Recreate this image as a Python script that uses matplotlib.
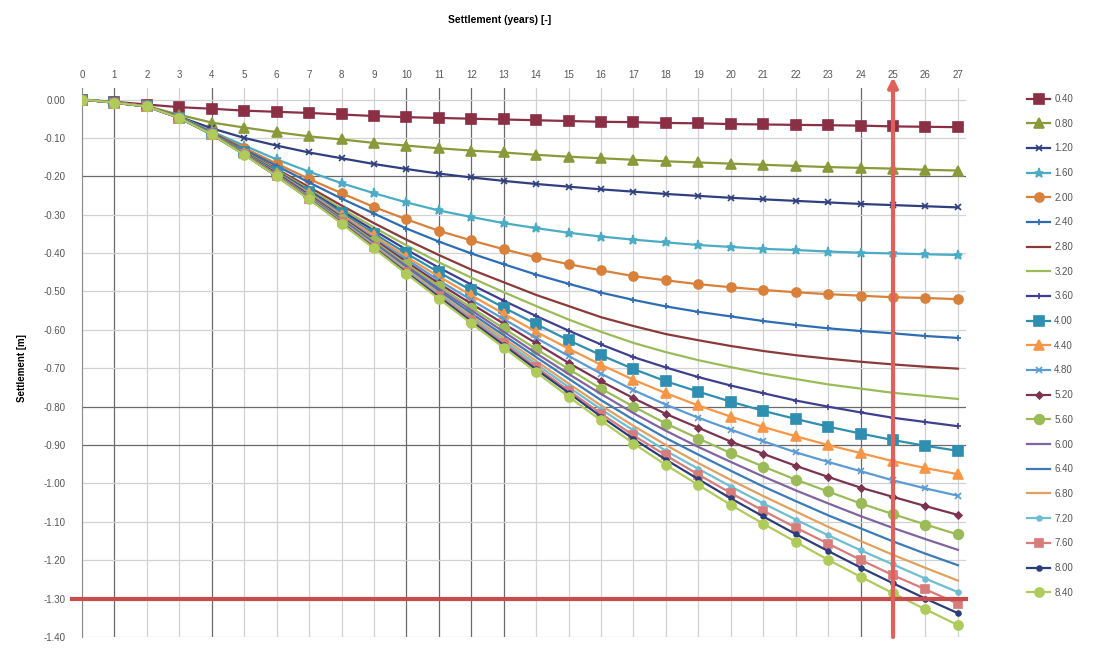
import matplotlib
matplotlib.use("Agg")
import matplotlib.pyplot as plt

plt.rcParams["font.family"] = ["Liberation Sans", "DejaVu Sans"]

# ---- data -------------------------------------------------------------
years = list(range(28))

s_040 = [0, -0.006, -0.013, -0.020, -0.024, -0.029, -0.032, -0.035, -0.039, -0.043, -0.046, -0.048, -0.050, -0.052,
         -0.054, -0.056, -0.058, -0.059, -0.061, -0.062, -0.064, -0.065, -0.066, -0.067, -0.068, -0.070, -0.071, -0.072]
s_080 = [0, -0.008, -0.017, -0.040, -0.060, -0.073, -0.085, -0.096, -0.104, -0.113, -0.120, -0.127, -0.133, -0.138,
         -0.144, -0.149, -0.153, -0.157, -0.161, -0.164, -0.167, -0.170, -0.173, -0.176, -0.178, -0.180, -0.183, -0.185]
s_120 = [0, -0.008, -0.018, -0.045, -0.075, -0.100, -0.120, -0.138, -0.153, -0.168, -0.181, -0.193, -0.203, -0.212,
         -0.220, -0.227, -0.234, -0.240, -0.246, -0.251, -0.256, -0.260, -0.264, -0.268, -0.272, -0.275, -0.278, -0.281]
s_160 = [0, -0.008, -0.018, -0.045, -0.083, -0.120, -0.156, -0.188, -0.218, -0.244, -0.268, -0.289, -0.306, -0.322,
         -0.335, -0.347, -0.357, -0.365, -0.372, -0.379, -0.384, -0.389, -0.392, -0.396, -0.399, -0.401, -0.403, -0.405]
s_200 = [0, -0.008, -0.018, -0.046, -0.085, -0.126, -0.167, -0.207, -0.244, -0.280, -0.312, -0.342, -0.367, -0.390,
         -0.411, -0.429, -0.445, -0.460, -0.471, -0.481, -0.489, -0.496, -0.502, -0.507, -0.511, -0.515, -0.517, -0.520]
s_240 = [0, -0.008, -0.018, -0.046, -0.086, -0.130, -0.173, -0.216, -0.258, -0.297, -0.336, -0.370, -0.401, -0.429,
         -0.456, -0.480, -0.503, -0.522, -0.539, -0.553, -0.565, -0.577, -0.587, -0.596, -0.603, -0.609, -0.616, -0.621]
s_280 = [0, -0.008, -0.018, -0.047, -0.087, -0.134, -0.181, -0.228, -0.276, -0.322, -0.365, -0.405, -0.443, -0.476,
         -0.509, -0.538, -0.567, -0.590, -0.611, -0.627, -0.642, -0.655, -0.666, -0.675, -0.683, -0.690, -0.696, -0.701]
s_320 = [0, -0.008, -0.018, -0.047, -0.088, -0.135, -0.184, -0.234, -0.284, -0.333, -0.380, -0.424, -0.464, -0.502,
         -0.538, -0.573, -0.605, -0.634, -0.658, -0.679, -0.697, -0.714, -0.728, -0.742, -0.753, -0.764, -0.772, -0.780]
s_360 = [0, -0.008, -0.018, -0.047, -0.088, -0.137, -0.187, -0.238, -0.290, -0.341, -0.391, -0.438, -0.482, -0.524,
         -0.564, -0.602, -0.638, -0.671, -0.698, -0.723, -0.745, -0.765, -0.784, -0.800, -0.815, -0.829, -0.840, -0.851]
s_400 = [0, -0.008, -0.018, -0.047, -0.089, -0.138, -0.189, -0.241, -0.295, -0.349, -0.401, -0.450, -0.497, -0.542,
         -0.585, -0.627, -0.666, -0.702, -0.734, -0.761, -0.787, -0.811, -0.832, -0.852, -0.870, -0.887, -0.902, -0.915]
s_440 = [0, -0.008, -0.018, -0.047, -0.089, -0.139, -0.191, -0.244, -0.300, -0.354, -0.410, -0.461, -0.510, -0.558,
         -0.605, -0.649, -0.691, -0.730, -0.765, -0.797, -0.826, -0.853, -0.877, -0.900, -0.921, -0.942, -0.960, -0.976]
s_480 = [0, -0.008, -0.018, -0.047, -0.090, -0.140, -0.192, -0.247, -0.304, -0.361, -0.416, -0.471, -0.522, -0.572,
         -0.621, -0.668, -0.714, -0.757, -0.795, -0.829, -0.860, -0.890, -0.919, -0.944, -0.968, -0.992, -1.013, -1.032]
s_520 = [0, -0.008, -0.018, -0.047, -0.090, -0.140, -0.193, -0.249, -0.307, -0.365, -0.423, -0.479, -0.532, -0.584,
         -0.635, -0.686, -0.734, -0.778, -0.819, -0.855, -0.891, -0.923, -0.954, -0.983, -1.011, -1.035, -1.059, -1.082]
s_560 = [0, -0.008, -0.018, -0.048, -0.090, -0.141, -0.196, -0.252, -0.310, -0.369, -0.429, -0.486, -0.542, -0.596,
         -0.650, -0.702, -0.753, -0.800, -0.844, -0.883, -0.921, -0.956, -0.990, -1.021, -1.052, -1.080, -1.107, -1.133]
s_600 = [0, -0.008, -0.018, -0.048, -0.091, -0.142, -0.196, -0.253, -0.312, -0.373, -0.434, -0.493, -0.549, -0.605,
         -0.661, -0.715, -0.767, -0.817, -0.863, -0.905, -0.944, -0.982, -1.018, -1.052, -1.085, -1.116, -1.145, -1.173]
s_640 = [0, -0.008, -0.018, -0.048, -0.091, -0.142, -0.197, -0.255, -0.315, -0.376, -0.438, -0.498, -0.557, -0.614,
         -0.671, -0.727, -0.783, -0.834, -0.882, -0.925, -0.967, -1.008, -1.046, -1.083, -1.117, -1.151, -1.183, -1.213]
s_680 = [0, -0.008, -0.018, -0.048, -0.091, -0.142, -0.198, -0.256, -0.317, -0.379, -0.442, -0.504, -0.564, -0.622,
         -0.681, -0.740, -0.797, -0.850, -0.900, -0.947, -0.991, -1.033, -1.073, -1.113, -1.150, -1.186, -1.220, -1.253]
s_720 = [0, -0.008, -0.018, -0.048, -0.091, -0.143, -0.199, -0.257, -0.319, -0.381, -0.446, -0.508, -0.569, -0.629,
         -0.689, -0.749, -0.807, -0.862, -0.915, -0.962, -1.008, -1.052, -1.094, -1.135, -1.174, -1.211, -1.248, -1.283]
s_760 = [0, -0.008, -0.018, -0.048, -0.091, -0.143, -0.199, -0.258, -0.320, -0.383, -0.449, -0.511, -0.573, -0.635,
         -0.697, -0.758, -0.818, -0.875, -0.927, -0.977, -1.025, -1.071, -1.115, -1.157, -1.199, -1.239, -1.276, -1.313]
s_800 = [0, -0.008, -0.018, -0.048, -0.091, -0.143, -0.200, -0.259, -0.321, -0.386, -0.451, -0.514, -0.578, -0.640,
         -0.703, -0.764, -0.826, -0.884, -0.938, -0.989, -1.039, -1.086, -1.132, -1.176, -1.219, -1.260, -1.300, -1.338]
s_840 = [0, -0.008, -0.018, -0.048, -0.091, -0.144, -0.200, -0.260, -0.323, -0.388, -0.454, -0.519, -0.583, -0.646,
         -0.710, -0.774, -0.836, -0.896, -0.952, -1.004, -1.056, -1.105, -1.152, -1.199, -1.243, -1.286, -1.328, -1.369]

series_labels = ["0.40", "0.80", "1.20", "1.60", "2.00", "2.40", "2.80", "3.20", "3.60", "4.00", "4.40",
                 "4.80", "5.20", "5.60", "6.00", "6.40", "6.80", "7.20", "7.60", "8.00", "8.40"]
series_values = [s_040, s_080, s_120, s_160, s_200, s_240, s_280, s_320, s_360, s_400, s_440,
                 s_480, s_520, s_560, s_600, s_640, s_680, s_720, s_760, s_800, s_840]

y_ticks = [0.0, -0.1, -0.2, -0.3, -0.4, -0.5, -0.6, -0.7, -0.8, -0.9, -1.0, -1.1, -1.2, -1.3, -1.4]
limit_settlement = -1.30
limit_year = 25

title_text = "Settlement (years) [-]"
ylabel_text = "Settlement [m]"

# ---- styles (colour, marker, marker size) per series -------------------
styles = [
    ("#8B2F45", "s", 7.5),
    ("#8A9A3B", "^", 6.5),
    ("#2F3F7F", "x", 5),
    ("#4BACC6", "*", 6.5),
    ("#D9803A", "o", 6.5),
    ("#2E6DB4", "+", 4),
    ("#8B3A3A", "", 0),
    ("#9BBB59", "", 0),
    ("#3F3F8F", "+", 5),
    ("#2F8FB0", "s", 7),
    ("#F79646", "^", 6.5),
    ("#5B9BD5", "x", 5),
    ("#7B3350", "D", 3.5),
    ("#9BBB59", "o", 7),
    ("#8064A2", "", 0),
    ("#3A7BB8", "", 0),
    ("#E0A060", "", 0),
    ("#6FBDD1", "o", 3.5),
    ("#D77B7B", "s", 6),
    ("#2C3E7A", "o", 3.5),
    ("#AFCB5A", "o", 6.5),
]

# ---- figure -------------------------------------------------------------
W, H = 1099, 650
fig = plt.figure(figsize=(W / 100, H / 100), dpi=100)
ax = fig.add_axes([82 / W, 1 - 637 / H, (966 - 82) / W, (637 - 88) / H])
ax.set_xlim(0, 27.25)
ax.set_ylim(-1.40, 0.03)

# grid lines (some darker, as drawn)
dark_x = {1, 4, 10, 11, 12, 13, 24}
dark_y = {-0.2, -0.8, -0.9}
for xv in years:
    ax.axvline(xv, color="#6a6a6a" if xv in dark_x else "#d2d2d2", lw=0.9, zorder=0)
for yv in y_ticks:
    ax.axhline(yv, color="#6a6a6a" if round(yv, 1) in dark_y else "#d2d2d2", lw=0.9, zorder=0)

for vals, lab, (col, mk, ms) in zip(series_values, series_labels, styles):
    ax.plot(years, vals, color=col, lw=1.6, marker=mk if mk else None, ms=ms,
            mfc=col, mec=col, mew=1.2, label=lab, zorder=3)

# limit lines
ax.plot([-0.3, 27.25], [limit_settlement, limit_settlement], color="#C84C4C", lw=3, zorder=4, clip_on=False)
ax.annotate("", xy=(limit_year, 0.058), xytext=(limit_year, -1.40),
            arrowprops=dict(arrowstyle="-|>", color="#E0605A", lw=3, mutation_scale=14, shrinkA=0, shrinkB=0),
            annotation_clip=False, zorder=5)

# axes
ax.xaxis.tick_top()
ax.set_xticks(years)
ax.set_xticklabels([str(v) for v in years])
ax.set_yticks(y_ticks)
ax.set_yticklabels([f"{v:.2f}" for v in y_ticks])
ax.tick_params(axis="both", labelsize=7, colors="#555555", length=0)
ax.tick_params(axis="x", pad=6)
ax.tick_params(axis="y", pad=12)
for side in ("right", "bottom", "top"):
    ax.spines[side].set_visible(False)
ax.spines["left"].set_color("#8a8a8a")

fig.text(500 / W, 1 - 20 / H, title_text, ha="center", va="center", fontsize=7.5, fontweight="bold")
fig.text(22 / W, 1 - 368 / H, ylabel_text, ha="center", va="center", rotation=90, fontsize=7,
         fontweight="bold")

handles, labels = ax.get_legend_handles_labels()
fig.legend(handles, labels, loc="upper left", bbox_to_anchor=(1027 / W, 1 - 94 / H), frameon=False,
           fontsize=7, labelspacing=1.51, handlelength=2.4, handletextpad=0.4, borderaxespad=0,
           borderpad=0, labelcolor="#555555")

fig.savefig("out.png", dpi=100)
